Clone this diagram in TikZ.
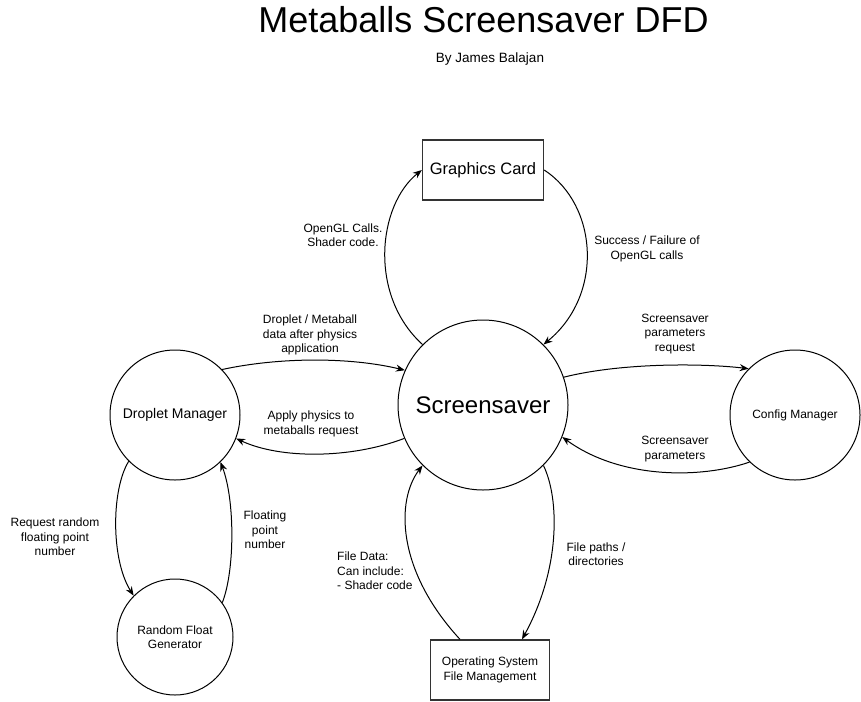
\documentclass[tikz,border=0pt]{standalone}
\usepackage{fontspec}
\setmainfont{Liberation Sans}
\usetikzlibrary{arrows.meta}
\begin{document}
\begin{tikzpicture}[x=1pt,y=1pt,
  proc/.style={circle,draw,line width=1pt,inner sep=0pt,align=center},
  ent/.style={rectangle,draw=black!80,line width=1.3pt,inner sep=0pt,align=center},
  flow/.style={-{Stealth[length=9pt,width=7pt]},line width=1pt},
  lbl/.style={align=center,font=\fontsize{12}{14.5}\selectfont,inner sep=0pt}]
\useasboundingbox (0,0) rectangle (861,-701);

\node[anchor=base,font=\fontsize{36}{40}\selectfont,inner sep=0pt] (title) at (483.5,-33) {Metaballs Screensaver DFD};
\node[anchor=base,font=\fontsize{13.5}{16}\selectfont,inner sep=0pt] (author) at (490,-63) {By James Balajan};

\node[ent,minimum width=121pt,minimum height=60pt,font=\fontsize{16.5}{20}\selectfont] (gc) at (483,-170) {Graphics Card};
\node[ent,minimum width=119pt,minimum height=60pt,font=\fontsize{12}{14.5}\selectfont] (os) at (490,-670) {Operating System\\File Management};
\node[proc,minimum size=170pt,font=\fontsize{24}{28}\selectfont] (scr) at (483,-405) {Screensaver};
\node[proc,minimum size=130pt,font=\fontsize{14}{17}\selectfont] (dm) at (175,-415) {Droplet Manager};
\node[proc,minimum size=130pt,font=\fontsize{12}{14.5}\selectfont] (cm) at (795,-415) {Config Manager};
\node[proc,minimum size=116pt,font=\fontsize{12}{14.5}\selectfont] (rf) at (175,-637) {Random Float\\Generator};

% flows
\draw[flow] (scr.135) .. controls (368,-295) and (378,-205) .. (gc.west);
\draw[flow] (gc.east) .. controls (598,-205) and (604,-295) .. (scr.45);
\draw[flow] (dm.44) .. controls (280,-357) and (350,-357) .. (scr.156);
\draw[flow] (scr.203) .. controls (350,-459) and (280,-459) .. (dm.-21);
\draw[flow] (scr.19) .. controls (620,-363) and (700,-363) .. (cm.135);
\draw[flow] (cm.226) .. controls (700,-479) and (620,-479) .. (scr.-22);
\draw[flow] (dm.225) .. controls (111,-490) and (111,-560) .. (rf.135);
\draw[flow] (rf.36) .. controls (235,-570) and (235,-500) .. (dm.-46);
\draw[flow] ([xshift=-30pt]os.north) .. controls (396,-570) and (396,-500) .. (scr.225);
\draw[flow] (scr.-45) .. controls (560,-500) and (560,-570) .. ([xshift=32pt]os.north);

% labels
\node[lbl] (l1) at (343,-235) {OpenGL Calls.\\Shader code.};
\node[lbl] (l2) at (647,-249) {Success / Failure of\\OpenGL calls};
\node[lbl] (l3) at (310,-335) {Droplet / Metaball\\data after physics\\application};
\node[lbl] (l4) at (311,-424) {Apply physics to\\metaballs request};
\node[lbl] (l5) at (675,-334) {Screensaver\\parameters\\request};
\node[lbl] (l6) at (675,-449) {Screensaver\\parameters};
\node[lbl] (l7) at (55,-537) {Request random\\floating point\\number};
\node[lbl] (l8) at (265,-530) {Floating\\point\\number};
\node[lbl,align=left,anchor=west] (l9) at (337,-571) {File Data:\\Can include:\\- Shader code};
\node[lbl] (l10) at (596,-554) {File paths /\\directories};
\end{tikzpicture}
\end{document}
